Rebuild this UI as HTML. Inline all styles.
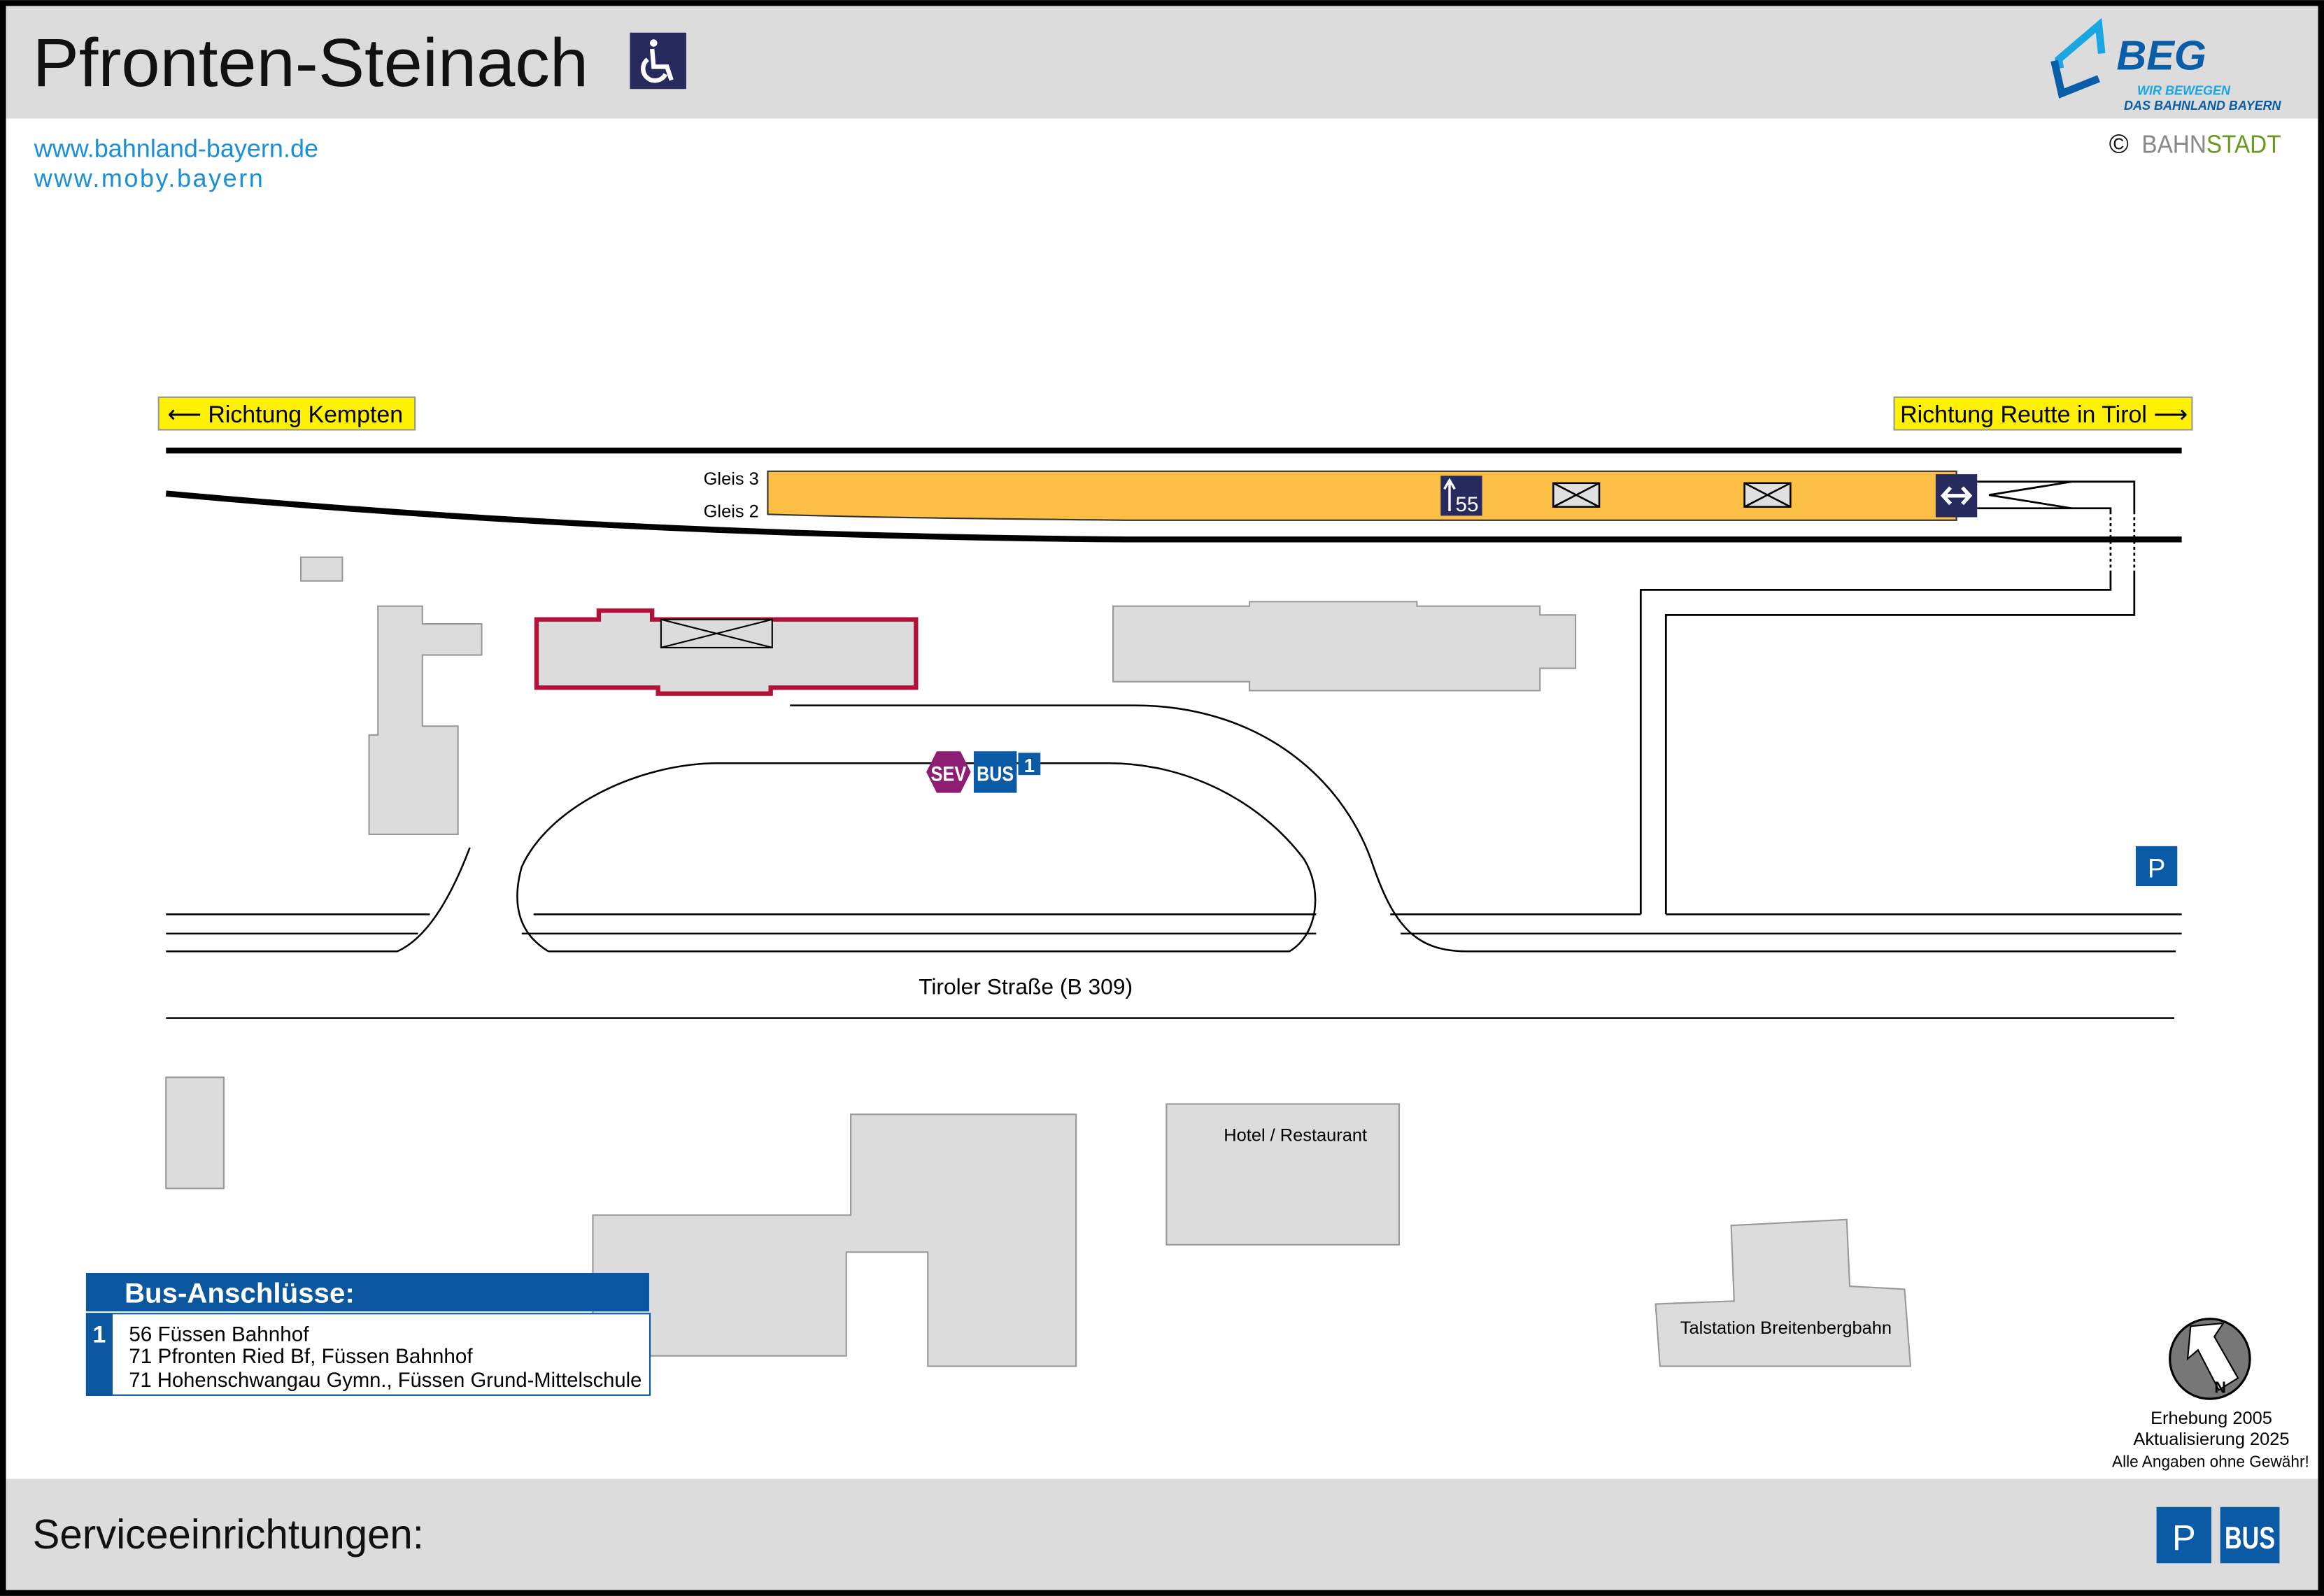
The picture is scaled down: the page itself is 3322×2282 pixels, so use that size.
<!DOCTYPE html>
<html><head><meta charset="utf-8"><style>html,body{margin:0;padding:0;background:#fff}svg{display:block}</style></head>
<body>
<svg width="3322" height="2282" viewBox="0 0 1568 1077" xmlns="http://www.w3.org/2000/svg" font-family="Liberation Sans, Arial, sans-serif">
<rect x="0" y="0" width="1568" height="1077" fill="#fff"/>
<rect x="4" y="4" width="1560" height="76" fill="#dcdcdc"/>
<rect x="4" y="998" width="1560" height="75" fill="#dcdcdc"/>
<rect x="2" y="2" width="1564" height="1073" fill="none" stroke="#000" stroke-width="4"/>
<text x="22" y="58" font-size="46" fill="#111" textLength="375" lengthAdjust="spacingAndGlyphs">Pfronten-Steinach</text>
<rect x="425" y="22" width="38" height="38" fill="#262a5c"/>
<g stroke="#fff" stroke-width="3" fill="none"><circle cx="441" cy="29" r="2.5" fill="#fff" stroke="none"/><path d="M440 33 L441 45 L450 45 L453 54"/><path d="M437 40 A8 8 0 1 0 449 50"/></g>
<text x="23" y="106" font-size="17" fill="#1a8fd6">www.bahnland-bayern.de</text>
<text x="23" y="126" font-size="17" fill="#1a8fd6" letter-spacing="1.2">www.moby.bayern</text>
<polyline points="1391,46 1415,12 1418,40" fill="none" stroke="none"/>
<path d="M1390,46 L1389,40 L1416,17 L1418,36" fill="none" stroke="#1aa6e0" stroke-width="5" stroke-linejoin="miter"/>
<path d="M1386,41 L1391,63 L1416,53" fill="none" stroke="#0a5ea8" stroke-width="5"/>
<text x="1428" y="47" font-size="28" font-weight="bold" font-style="italic" fill="#0a5ea8">BEG</text>
<text x="1442" y="64" font-size="8.5" font-weight="bold" font-style="italic" fill="#1aa6e0">WIR BEWEGEN</text>
<text x="1433" y="74" font-size="8.5" font-weight="bold" font-style="italic" fill="#0a5ea8" textLength="106" lengthAdjust="spacingAndGlyphs">DAS BAHNLAND BAYERN</text>
<text x="1423" y="103" font-size="18" fill="#111">©</text>
<text x="1445" y="103" font-size="17" fill="#888" textLength="94" lengthAdjust="spacingAndGlyphs">BAHN<tspan fill="#6a9a1f">STADT</tspan></text>
<rect x="107" y="268" width="173" height="22" fill="#fff200" stroke="#999" stroke-width="1"/>
<text x="113" y="285" font-size="16" fill="#000">⟵ Richtung Kempten</text>
<rect x="1278" y="268" width="201" height="22" fill="#fff200" stroke="#999" stroke-width="1"/>
<text x="1282" y="285" font-size="16" fill="#000" textLength="194" lengthAdjust="spacingAndGlyphs">Richtung Reutte in Tirol ⟶</text>
<line x1="112" y1="304" x2="1472" y2="304" stroke="#000" stroke-width="4"/>
<path d="M112,333 C300,350 500,362 760,364 L1472,364" fill="none" stroke="#000" stroke-width="4"/>
<path d="M518,318 L1320,318 L1320,351 L760,351 C650,350 580,349 518,347 Z" fill="#fbbf45" stroke="#333" stroke-width="1"/>
<text x="512" y="327" font-size="12" text-anchor="end">Gleis 3</text>
<text x="512" y="349" font-size="12" text-anchor="end">Gleis 2</text>
<rect x="972" y="321" width="28" height="27" fill="#262a5c"/>
<path d="M978,345 L978,325 M974.5,330 L978,324 L981.5,330" stroke="#fff" stroke-width="1.6" fill="none"/>
<text x="982" y="345" font-size="14" fill="#fff">55</text>
<g stroke="#000" stroke-width="1.2" fill="#e0e0e0"><rect x="1048" y="326" width="31" height="16"/><path d="M1048,326 L1079,342 M1079,326 L1048,342"/><rect x="1177" y="326" width="31" height="16"/><path d="M1177,326 L1208,342 M1208,326 L1177,342"/></g>
<rect x="1306" y="320" width="28" height="29" fill="#262a5c"/>
<path d="M1313,334.5 L1327,334.5 M1316,329 L1311,334.5 L1316,340 M1324,329 L1329,334.5 L1324,340" stroke="#fff" stroke-width="2.5" fill="none"/>
<g fill="none" stroke="#000" stroke-width="1.3">
<path d="M1334,325 L1440,325 L1440,345 M1440,385 L1440,415 L1124,415 L1124,617"/>
<path d="M1334,343 L1424,343 L1424,345 M1424,385 L1424,398 L1107,398 L1107,617"/>
<path d="M1398,325 L1342,334 L1398,343"/>
<path d="M1424,345 L1424,385 M1440,345 L1440,385" stroke-dasharray="2,2"/>
</g>
<g fill="#dcdcdc" stroke="#999" stroke-width="1">
<rect x="203" y="376" width="28" height="16"/>
<path d="M255,409 L285,409 L285,421 L325,421 L325,442 L285,442 L285,490 L309,490 L309,563 L249,563 L249,496 L255,496 Z"/>
<path d="M751,409 L843,409 L843,406 L956,406 L956,409 L1039,409 L1039,415 L1063,415 L1063,451 L1039,451 L1039,466 L843,466 L843,460 L751,460 Z"/>
<rect x="112" y="727" width="39" height="75"/>
<path d="M400,820 L574,820 L574,752 L726,752 L726,922 L626,922 L626,845 L571,845 L571,915 L400,915 Z"/>
<rect x="787" y="745" width="157" height="95"/>
<path d="M1168,827 L1246,823 L1248,868 L1285,870 L1289,922 L1120,922 L1117,880 L1170,878 Z"/>
</g>
<path d="M362,418 L404,418 L404,412 L440,412 L440,418 L618,418 L618,464 L520,464 L520,468 L444,468 L444,464 L362,464 Z" fill="#dcdcdc" stroke="#b0123a" stroke-width="3"/>
<g stroke="#000" stroke-width="1" fill="#dcdcdc"><rect x="446" y="418" width="75" height="19"/><path d="M446,418 L521,437 M521,418 L446,437"/></g>
<text x="874" y="770" font-size="12" text-anchor="middle">Hotel / Restaurant</text>
<text x="1205" y="900" font-size="12" text-anchor="middle">Talstation Breitenbergbahn</text>
<g fill="none" stroke="#000" stroke-width="1.2">
<path d="M112,617 L290,617 M112,630 L282,630 M112,642 L268,642 Q295,630 317,572"/>
<path d="M360,617 L888,617 M352,630 L888,630"/>
<path d="M370,642 L870,642 C890,630 892,600 880,580 C850,540 800,515 748,515 L485,515 C430,515 370,545 352,585 C345,610 350,630 370,642"/>
<path d="M533,476 L765,476 C850,476 905,525 925,580 C940,625 955,642 990,642 L1468,642"/>
<path d="M938,617 L1107,617 M1124,617 L1472,617 M945,630 L1472,630"/>
<path d="M112,687 L1467,687"/>
</g>
<text x="692" y="671" font-size="15" text-anchor="middle">Tiroler Straße (B 309)</text>
<polygon points="632,507 648,507 655,521 648,535 632,535 625,521" fill="#8e1e72"/>
<text x="640" y="527" font-size="14" font-weight="bold" fill="#fff" text-anchor="middle" textLength="24" lengthAdjust="spacingAndGlyphs">SEV</text>
<rect x="657" y="507" width="29" height="28" fill="#0b5aa5"/>
<text x="671.5" y="527" font-size="14" font-weight="bold" fill="#fff" text-anchor="middle" textLength="25" lengthAdjust="spacingAndGlyphs">BUS</text>
<rect x="687" y="508" width="15" height="15" fill="#0b5aa5"/>
<text x="694.5" y="521" font-size="13" font-weight="bold" fill="#fff" text-anchor="middle">1</text>
<rect x="1441" y="571" width="28" height="27" fill="#0b5aa5"/>
<text x="1455" y="592" font-size="18" fill="#fff" text-anchor="middle">P</text>
<rect x="58" y="859" width="380" height="26" fill="#0b579f"/>
<text x="84" y="879" font-size="19" font-weight="bold" fill="#fff">Bus-Anschlüsse:</text>
<rect x="58.5" y="886.5" width="380" height="55" fill="#fff" stroke="#0b579f" stroke-width="1"/>
<rect x="58" y="886" width="18" height="56" fill="#0b579f"/>
<text x="67" y="906" font-size="16" font-weight="bold" fill="#fff" text-anchor="middle">1</text>
<text x="87" y="905" font-size="14">56 Füssen Bahnhof</text>
<text x="87" y="920" font-size="14">71 Pfronten Ried Bf, Füssen Bahnhof</text>
<text x="87" y="936" font-size="14" textLength="346" lengthAdjust="spacingAndGlyphs">71 Hohenschwangau Gymn., Füssen Grund-Mittelschule</text>
<circle cx="1491" cy="917" r="27" fill="#777" stroke="#000" stroke-width="1.5"/>
<path d="M1478,895 L1500,893 L1494,902 L1510,930 L1497,938 L1483,911 L1476,917 Z" fill="#fff" stroke="#000" stroke-width="1"/>
<text x="1494" y="940" font-size="11" font-weight="bold">N</text>
<text x="1492" y="961" font-size="12" text-anchor="middle">Erhebung 2005</text>
<text x="1492" y="975" font-size="12" text-anchor="middle">Aktualisierung 2025</text>
<text x="1558" y="990" font-size="11" text-anchor="end" textLength="133" lengthAdjust="spacingAndGlyphs">Alle Angaben ohne Gewähr!</text>
<text x="22" y="1045" font-size="28" fill="#111" textLength="264" lengthAdjust="spacingAndGlyphs">Serviceeinrichtungen:</text>
<rect x="1455" y="1017" width="37" height="38" fill="#0b5aa5"/>
<text x="1473.5" y="1046" font-size="24" fill="#fff" text-anchor="middle">P</text>
<rect x="1498" y="1017" width="40" height="38" fill="#0b5aa5"/>
<text x="1518" y="1045" font-size="21" font-weight="bold" fill="#fff" text-anchor="middle" textLength="34" lengthAdjust="spacingAndGlyphs">BUS</text>
</svg>
</body></html>
